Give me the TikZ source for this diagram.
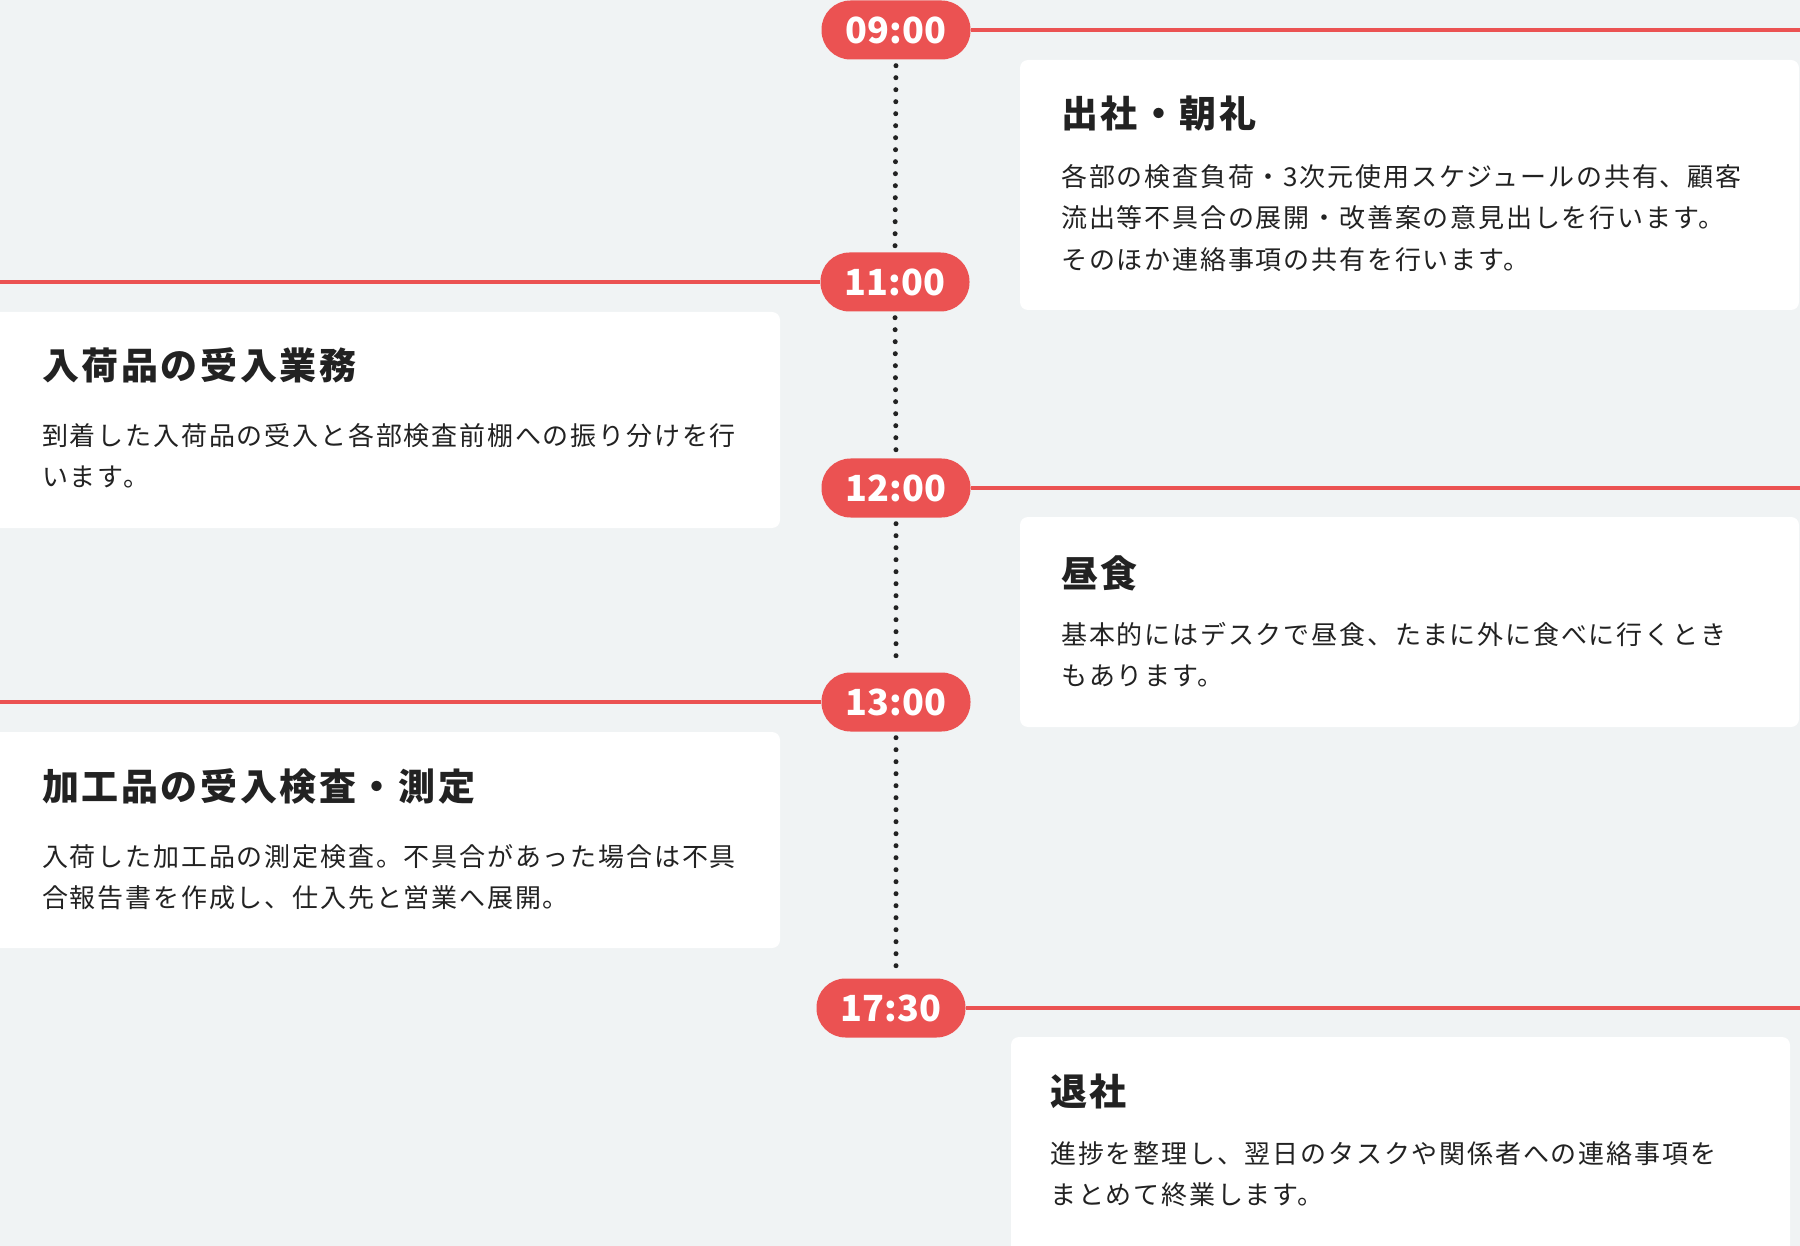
\documentclass[tikz,border=0pt]{standalone}
\usepackage{fontspec}
\setmainfont{Noto Sans CJK JP}[LetterSpace=7]
\newfontfamily\stampfont{Noto Sans CJK JP}
\usetikzlibrary{positioning}
\definecolor{pagebg}{RGB}{240,243,244}
\definecolor{tlred}{RGB}{235,82,82}
\definecolor{inkdark}{RGB}{34,34,34}

\begin{document}
\begin{tikzpicture}[
  x=1pt, y=-1pt,
  pill/.style={rectangle, rounded corners=29pt, fill=tlred, text=white,
    minimum width=149pt, minimum height=59pt, inner sep=0pt,
    font=\stampfont\fontsize{36}{40}\selectfont\bfseries},
  card/.style={rectangle, rounded corners=8pt, fill=white, anchor=north west,
    inner sep=0pt, outer sep=0pt},
  ttl/.style={anchor=west, inner sep=0pt, text=inkdark,
    font=\fontsize{37}{44}\selectfont\bfseries},
  desc/.style={anchor=north west, inner sep=0pt, align=left, text=inkdark,
    font=\fontsize{26}{41.5}\selectfont},
  tick/.style={tlred, line width=3.5pt},
  dots/.style={inkdark, line width=5pt, line cap=round,
    dash pattern=on 0pt off 12pt, shorten <=6pt, shorten >=6pt}
]
  \useasboundingbox (0,0) rectangle (1800,1246);
  \fill[pagebg] (0,0) rectangle (1800,1246);
  \coordinate (L) at (0,0);
  \coordinate (R) at (1800,0);

  %% cards
  \node[card, minimum width=779pt, minimum height=250pt] (c1) at (1020,60) {};
  \node[card, minimum width=790pt, minimum height=216pt] (c2) at (-10,312) {};
  \node[card, minimum width=779pt, minimum height=210pt] (c3) at (1020,517) {};
  \node[card, minimum width=790pt, minimum height=216pt] (c4) at (-10,732) {};
  \node[card, minimum width=779pt, minimum height=230pt] (c5) at (1011,1037) {};

  %% time stamps
  \node[pill] (t0900) at (896,30)   {09:00};
  \node[pill] (t1100) at (895,282)  {11:00};
  \node[pill] (t1200) at (896,488)  {12:00};
  \node[pill] (t1300) at (896,702)  {13:00};
  \node[pill] (t1730) at (891,1008) {17:30};

  \draw[tick] (t0900.east) -- (t0900.east -| R);
  \draw[tick] (t1100.west) -- (t1100.west -| L);
  \draw[tick] (t1200.east) -- (t1200.east -| R);
  \draw[tick] (t1300.west) -- (t1300.west -| L);
  \draw[tick] (t1730.east) -- (t1730.east -| R);

  \draw[dots] (t0900.south) -- (t1100.north);
  \draw[dots] (t1100.south) -- (t1200.north);
  \draw[dots] (t1200.south) -- (t1300.north);
  \draw[dots] (t1300.south) -- (t1300.south |- t1730.north);

  %% texts
  \node[ttl]  (h1) at ([shift={(41,53)}]c1.north west) {出社・朝礼};
  \node[desc] (b1) at ([shift={(41,104)}]c1.north west)
    {各部の検査負荷・3次元使用スケジュールの共有、顧客\\
     流出等不具合の展開・改善案の意見出しを行います。\\
     そのほか連絡事項の共有を行います。};

  \node[ttl]  (h2) at ([shift={(52,53)}]c2.north west) {入荷品の受入業務};
  \node[desc] (b2) at ([shift={(52,111)}]c2.north west)
    {到着した入荷品の受入と各部検査前棚への振り分けを行\\
     います。};

  \node[ttl]  (h3) at ([shift={(41,56)}]c3.north west) {昼食};
  \node[desc] (b3) at ([shift={(41,105)}]c3.north west)
    {基本的にはデスクで昼食、たまに外に食べに行くとき\\
     もあります。};

  \node[ttl]  (h4) at ([shift={(52,54)}]c4.north west) {加工品の受入検査・測定};
  \node[desc] (b4) at ([shift={(52,112)}]c4.north west)
    {入荷した加工品の測定検査。不具合があった場合は不具\\
     合報告書を作成し、仕入先と営業へ展開。};

  \node[ttl]  (h5) at ([shift={(39,54)}]c5.north west) {退社};
  \node[desc] (b5) at ([shift={(39,104)}]c5.north west)
    {進捗を整理し、翌日のタスクや関係者への連絡事項を\\
     まとめて終業します。};
\end{tikzpicture}
\end{document}
